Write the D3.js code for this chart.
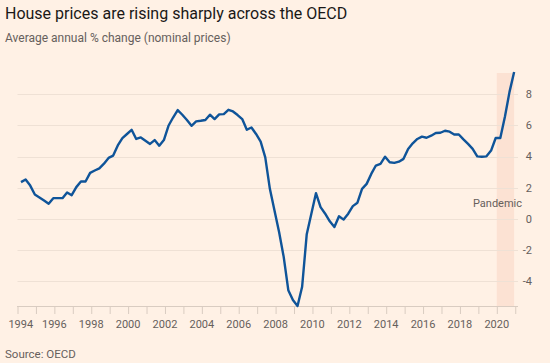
<!DOCTYPE html>
<html>
<head>
<meta charset="utf-8">
<script src="https://cdn.jsdelivr.net/npm/d3@7"></script>
<style>
  html, body { margin: 0; padding: 0; background: #fff1e5; }
  svg { display: block; font-family: Roboto, "Noto Sans", sans-serif; }
</style>
</head>
<body>
<svg id="chart" width="550" height="363"></svg>
<script>
// ---- Data (OECD average annual % change in nominal house prices, quarterly 1994 Q1 – 2020 Q4)
const startYear = 1994;
const values = [
  2.35, 2.52, 2.13, 1.56, 1.37, 1.17, 0.96, 1.32, 1.32, 1.32,
  1.69, 1.51, 2.03, 2.39, 2.39, 2.95, 3.10, 3.24, 3.54, 3.91,
  4.06, 4.71, 5.19, 5.45, 5.72, 5.13, 5.23, 5.02, 4.81, 5.06,
  4.70, 5.06, 5.98, 6.51, 6.99, 6.69, 6.35, 5.98, 6.26, 6.30,
  6.35, 6.69, 6.41, 6.71, 6.73, 7.01, 6.90, 6.67, 6.41, 5.72,
  5.87, 5.45, 4.96, 3.95, 1.92, 0.53, -0.86, -2.46, -4.60, -5.24,
  -5.62, -4.38, -1.00, 0.32, 1.64, 0.74, 0.32, -0.17, -0.54, 0.15,
  -0.06, 0.32, 0.81, 1.03, 1.92, 2.24, 2.88, 3.42, 3.53, 3.99,
  3.63, 3.59, 3.67, 3.85, 4.49, 4.85, 5.13, 5.28, 5.21, 5.34,
  5.51, 5.53, 5.66, 5.60, 5.42, 5.42, 5.10, 4.81, 4.49, 4.01,
  3.99, 4.01, 4.38, 5.19, 5.19, 6.56, 8.16, 9.44
];
const quarters = d3.range(values.length).map(i => `${startYear + Math.floor(i / 4)} Q${(i % 4) + 1}`);
const yTicks = [-4, -2, 0, 2, 4, 6, 8];
const xTickYears = d3.range(1994, 2022);
const xLabelYears = [1994, 1996, 1998, 2000, 2002, 2004, 2006, 2008, 2010, 2012, 2014, 2016, 2018, 2020];
const pandemicStart = 2020;
const titleText = "House prices are rising sharply across the OECD";
const subtitleText = "Average annual % change (nominal prices)";
const sourceText = "Source: OECD";
const bandLabel = "Pandemic";

// quarter label -> decimal year (plotted within the quarter)
function qToYear(q) {
  const [y, qq] = q.split(" Q");
  return +y + (+qq - 1) / 4 + 0.19;
}
const data = quarters.map((q, i) => ({ t: qToYear(q), v: values[i] }));

const svg = d3.select("#chart");
const W = 550, H = 363;
svg.append("rect").attr("width", W).attr("height", H).attr("fill", "#fff1e5");

const x = d3.scaleLinear().domain([1994, 2021.15]).range([17.5, 518]);
const y = d3.scaleLinear().domain(d3.extent(values)).range([306, 72]);

// Pandemic band
const lastT = data[data.length - 1].t;
svg.append("rect")
  .attr("x", x(pandemicStart))
  .attr("y", y(d3.max(values)) + 1)
  .attr("width", x(lastT) - x(pandemicStart))
  .attr("height", 306 - y(d3.max(values)) - 1)
  .attr("fill", "#fce2d3");

// Gridlines
svg.append("g").selectAll("line").data(yTicks).join("line")
  .attr("x1", 17.5).attr("x2", 518)
  .attr("y1", d => Math.round(y(d)) + 0.5).attr("y2", d => Math.round(y(d)) + 0.5)
  .attr("stroke", "#efe1d5").attr("stroke-width", 1);

// Y labels (right)
svg.append("g").selectAll("text").data(yTicks).join("text")
  .attr("x", 532).attr("y", d => y(d)).attr("dy", "0.36em")
  .attr("text-anchor", "end")
  .attr("font-size", 11).attr("fill", "#66605c")
  .text(d => d);

// X axis
const xAxis = d3.axisBottom(x).tickValues(xTickYears).tickSize(7.5).tickFormat("");
const gx = svg.append("g").attr("transform", "translate(0,306.5)").call(xAxis);
gx.select(".domain").attr("stroke", "#d9ccc1").attr("d", `M17,0H518`);
gx.selectAll(".tick line").attr("stroke", "#d9ccc1");

svg.append("g").selectAll("text").data(xLabelYears).join("text")
  .attr("x", d => d === 1994 ? x(d) + 3.3 : x(d))
  .attr("y", 328.3)
  .attr("text-anchor", "middle")
  .attr("font-size", 11).attr("fill", "#66605c")
  .text(d => d);

// Line
const line = d3.line().x(d => x(d.t)).y(d => y(d.v));
svg.append("path").datum(data)
  .attr("d", line)
  .attr("fill", "none")
  .attr("stroke", "#0f5499")
  .attr("stroke-width", 2.4)
  .attr("stroke-linejoin", "round");

// Band label
svg.append("text").attr("x", 522).attr("y", 207)
  .attr("text-anchor", "end").attr("font-size", 11).attr("fill", "#66605c")
  .text(bandLabel);

// Titles
svg.append("text").attr("x", 5).attr("y", 19)
  .attr("font-size", 16).attr("fill", "#1a1817").text(titleText);
svg.append("text").attr("x", 5).attr("y", 41.5)
  .attr("font-size", 12).attr("fill", "#66605c").text(subtitleText);
svg.append("text").attr("x", 5).attr("y", 357.5)
  .attr("font-size", 11.5).attr("fill", "#66605c").text(sourceText);
</script>
</body>
</html>
